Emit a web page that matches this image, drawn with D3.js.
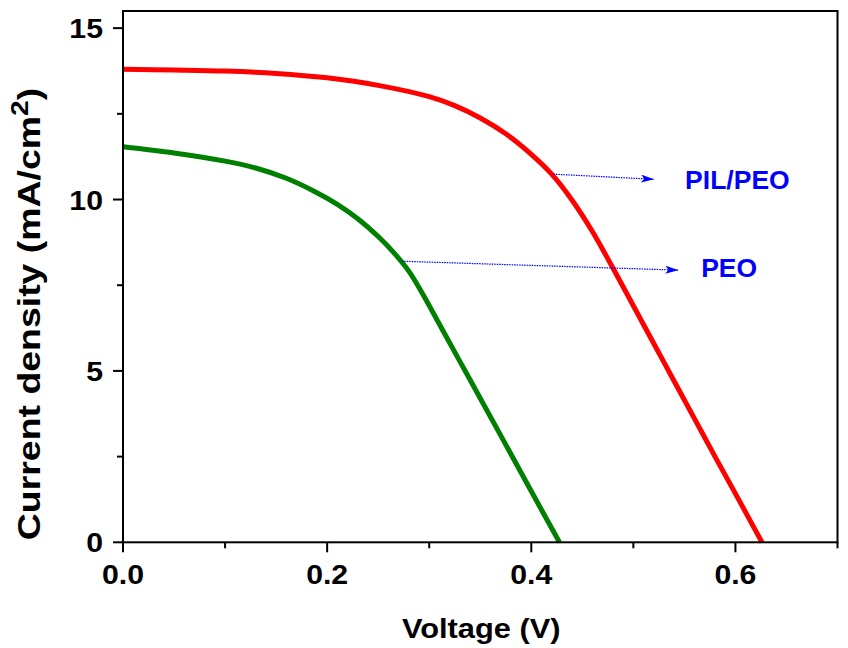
<!DOCTYPE html>
<html>
<head>
<meta charset="utf-8">
<script src="https://cdn.jsdelivr.net/npm/d3@7"></script>
<style>
  html, body { margin: 0; padding: 0; background: #fff; }
  svg { display: block; }
  text { font-family: "Liberation Sans", Arial, Helvetica, sans-serif; font-weight: bold; }
</style>
</head>
<body>
<svg id="chart" width="848" height="648"></svg>
<script>
// ---- data ----
const pilPeoVoltage = [0, 0.05, 0.10, 0.15, 0.20, 0.25, 0.30, 0.325, 0.35, 0.375, 0.40, 0.42, 0.44, 0.46, 0.48, 0.50, 0.52, 0.54, 0.56, 0.58, 0.60, 0.626];
const pilPeoCurrent = [13.80, 13.78, 13.75, 13.68, 13.55, 13.33, 13.00, 12.74, 12.38, 11.92, 11.32, 10.74, 9.98, 9.06, 8.00, 6.90, 5.80, 4.70, 3.60, 2.50, 1.42, 0];

const peoVoltage = [0, 0.05, 0.10, 0.13, 0.16, 0.19, 0.21, 0.23, 0.25, 0.265, 0.28, 0.295, 0.31, 0.34, 0.37, 0.40, 0.4276];
const peoCurrent = [11.54, 11.36, 11.12, 10.92, 10.62, 10.20, 9.86, 9.44, 8.92, 8.46, 7.91, 7.17, 6.36, 4.74, 3.12, 1.49, 0];

const seriesNames = ["PIL/PEO", "PEO"];
const seriesColors = ["#ff0000", "#008000"];

// annotation arrows (data coordinates): start on curve -> arrow tip, label anchor
const annotLabels = ["PIL/PEO", "PEO"];
const annotStartV = [0.4217, 0.2731];
const annotStartJ = [10.74, 8.20];
const annotEndV = [0.5203, 0.5441];
const annotEndJ = [10.59, 7.94];
const annotTextV = [0.5507, 0.5664];
const annotTextJ = [10.30, 7.74];

const xMajorTicks = [0.0, 0.2, 0.4, 0.6];
const xMinorTicks = [0.1, 0.3, 0.5, 0.7];
const yMajorTicks = [0, 5, 10, 15];
const yMinorTicks = [2.5, 7.5, 12.5];

const xTitle = "Voltage (V)";
const yTitleMain = "Current density (mA/cm";
const yTitleSup = "2";
const yTitleEnd = ")";

// ---- layout ----
const W = 848, H = 648;
const margin = { left: 123, right: 10.5, top: 11, bottom: 105.7 };
const svg = d3.select("#chart");

const x = d3.scaleLinear().domain([0, 0.7]).range([margin.left, W - margin.right]);
const y = d3.scaleLinear().domain([0, 15.5]).range([H - margin.bottom, margin.top]);

const x0 = x.range()[0], x1 = x.range()[1];
const y0 = y.range()[0], y1 = y.range()[1];

// ---- curves ----
const line = d3.line().x(d => x(d[0])).y(d => y(d[1])).curve(d3.curveCatmullRom.alpha(0.5));
const series = [
  d3.zip(pilPeoVoltage, pilPeoCurrent),
  d3.zip(peoVoltage, peoCurrent)
];
svg.append("g").selectAll("path").data(series).join("path")
  .attr("d", line)
  .attr("fill", "none")
  .attr("stroke", (d, i) => seriesColors[i])
  .attr("stroke-width", 5)
  .attr("stroke-linejoin", "round");

// ---- annotations ----
const defs = svg.append("defs");
defs.append("marker").attr("id", "arrow")
  .attr("viewBox", "0 0 13 8").attr("refX", 13).attr("refY", 4)
  .attr("markerWidth", 13).attr("markerHeight", 8)
  .attr("markerUnits", "userSpaceOnUse").attr("orient", "auto")
  .append("path").attr("d", "M0,0 L13,4 L0,8 L3,4 Z").attr("fill", "#0000ff");

const ann = svg.append("g");
annotLabels.forEach((lab, i) => {
  ann.append("line")
    .attr("x1", x(annotStartV[i])).attr("y1", y(annotStartJ[i]))
    .attr("x2", x(annotEndV[i])).attr("y2", y(annotEndJ[i]))
    .attr("stroke", "#0000ff").attr("stroke-width", 1.2)
    .attr("stroke-dasharray", "1.5,1")
    .attr("marker-end", "url(#arrow)");
  ann.append("text")
    .attr("transform", `translate(${x(annotTextV[i])},${y(annotTextJ[i])}) scale(1.02,1)`)
    .attr("font-size", 26).attr("fill", "#0000ff")
    .text(lab);
});

// ---- frame & axes ----
const axisG = svg.append("g").attr("stroke", "#000").attr("stroke-width", 2);
axisG.append("rect")
  .attr("x", x0).attr("y", y1).attr("width", x1 - x0).attr("height", y0 - y1)
  .attr("fill", "none");

axisG.selectAll(".xmaj").data(xMajorTicks).join("line")
  .attr("class", "xmaj")
  .attr("x1", d => x(d)).attr("x2", d => x(d))
  .attr("y1", y0).attr("y2", y0 + 10);
axisG.selectAll(".xmin").data(xMinorTicks).join("line")
  .attr("class", "xmin")
  .attr("x1", d => x(d)).attr("x2", d => x(d))
  .attr("y1", y0).attr("y2", y0 + 6);
axisG.selectAll(".ymaj").data(yMajorTicks).join("line")
  .attr("class", "ymaj")
  .attr("y1", d => y(d)).attr("y2", d => y(d))
  .attr("x1", x0).attr("x2", x0 - 10);
axisG.selectAll(".ymin").data(yMinorTicks).join("line")
  .attr("class", "ymin")
  .attr("y1", d => y(d)).attr("y2", d => y(d))
  .attr("x1", x0).attr("x2", x0 - 6);

const tickFont = 28, tickScale = 1.08;
const fmtX = d3.format(".1f");
svg.append("g").selectAll("text").data(xMajorTicks).join("text")
  .attr("transform", d => `translate(${x(d)},${y0 + 41.5}) scale(${tickScale},1)`)
  .attr("text-anchor", "middle").attr("font-size", tickFont)
  .text(d => fmtX(d));
svg.append("g").selectAll("text").data(yMajorTicks).join("text")
  .attr("transform", d => `translate(${x0 - 20},${y(d) + 10}) scale(${tickScale},1)`)
  .attr("text-anchor", "end").attr("font-size", tickFont)
  .text(d => d);

// axis titles
svg.append("text")
  .attr("transform", `translate(${(x0 + x1) / 2 + 1},${637.5}) scale(1.1,1)`)
  .attr("text-anchor", "middle").attr("font-size", 28)
  .text(xTitle);

const yt = svg.append("text")
  .attr("transform", `translate(40,314) rotate(-90) scale(1.17,1)`)
  .attr("text-anchor", "middle").attr("font-size", 32);
yt.append("tspan").text(yTitleMain);
yt.append("tspan").attr("font-size", 24).attr("dy", -12).text(yTitleSup);
yt.append("tspan").attr("dy", 12).text(yTitleEnd);
</script>
</body>
</html>
